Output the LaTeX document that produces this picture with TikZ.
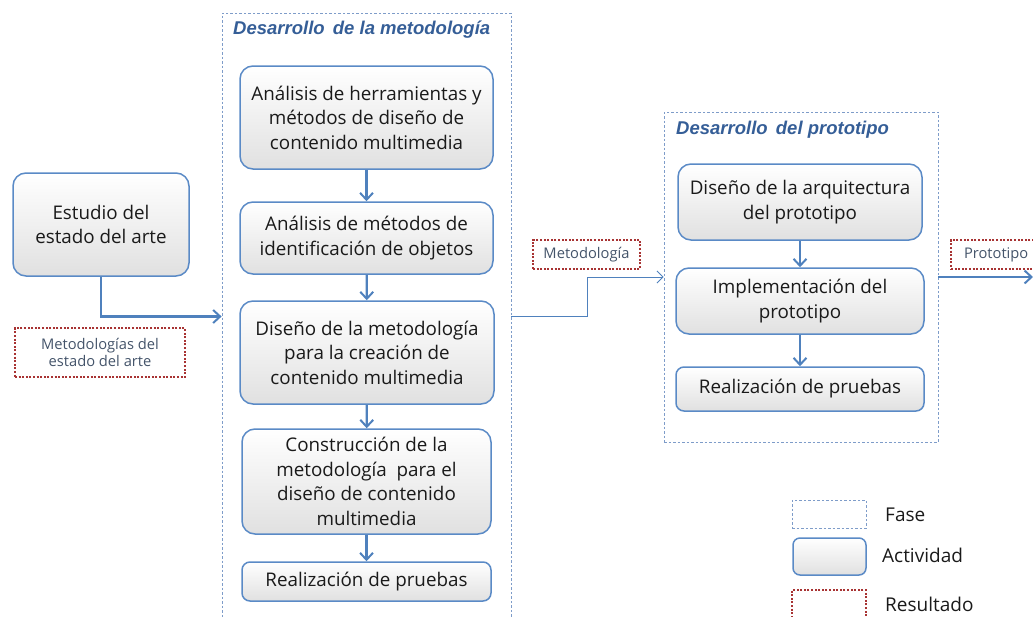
\documentclass[tikz,border=0pt]{standalone}
\usepackage{fontspec}
\setmainfont{Open Sans}
\newfontfamily\titlefont{Liberation Sans}
\usetikzlibrary{arrows.meta,positioning}
\definecolor{bxborder}{HTML}{5A8AC6}
\definecolor{arrowc}{HTML}{4F81BD}
\definecolor{phasec}{HTML}{7E9CC9}
\definecolor{titlec}{HTML}{355E97}
\definecolor{resc}{HTML}{A83333}
\definecolor{restext}{HTML}{44546A}
\definecolor{txt}{HTML}{1A1A1A}
\tikzset{
  act/.style={draw=bxborder, line width=1.5pt, rounded corners=13pt, top color=white, bottom color=black!12,
    align=center, text=txt, font=\fontsize{18.8}{24.5}\selectfont, inner sep=0pt},
  phase/.style={draw=phasec, line width=0.8pt, dash pattern=on 2.5pt off 2pt, inner sep=0pt},
  result/.style={draw=resc, line width=2.2pt, dash pattern=on 2pt off 1.6pt, align=center, text=restext,
    font=\fontsize{14.7}{17}\selectfont, inner sep=0pt},
  ttl/.style={font=\titlefont\bfseries\itshape\fontsize{18.5}{20}\selectfont, text=titlec, anchor=west, inner sep=0pt},
  flow/.style={draw=arrowc, line width=2.2pt, -{Straight Barb[length=7pt,width=13pt,line width=2pt]}},
  thinflow/.style={draw=arrowc, line width=0.9pt, -{Straight Barb[length=6pt,width=12pt,line width=0.9pt]}},
  legtext/.style={anchor=west, text=txt, font=\fontsize{19}{20}\selectfont, inner sep=0pt}
}
\begin{document}
\begin{tikzpicture}[x=1pt,y=-1pt]
\useasboundingbox (0,0) rectangle (1033,616);
% phases
\node[phase, minimum width=289pt, minimum height=607pt] (ph1) at (366.5,316.5) {};
\node[phase, minimum width=274pt, minimum height=330pt] (ph2) at (801,277) {};
\node[ttl] (t1) at (233,30) {Desarrollo\, de la metodología};
\node[ttl] (t2) at (676,130) {Desarrollo\, del prototipo};
% activities
\node[act, minimum width=176pt, minimum height=103pt] (e) at (101,224.5) {Estudio del\\estado del arte};
\node[act, minimum width=253pt, minimum height=103pt] (a1) at (366.5,117.5) {Análisis de herramientas y\\métodos de diseño de\\contenido multimedia};
\node[act, minimum width=253pt, minimum height=72pt] (a2) at (366.5,238) {Análisis de métodos de\\identificación de objetos};
\node[act, minimum width=254pt, minimum height=103pt] (a3) at (367,352.5) {Diseño de la metodología\\para la creación de\\contenido multimedia};
\node[act, minimum width=249pt, minimum height=105pt] (a4) at (366.5,481.5) {Construcción de la\\metodología\ \ para el\\diseño de contenido\\multimedia};
\node[act, minimum width=249pt, minimum height=39pt, rounded corners=8pt] (a5) at (366.5,581.5) {Realización de pruebas};
\node[act, minimum width=244pt, minimum height=76pt] (p1) at (800,202) {Diseño de la arquitectura\\del prototipo};
\node[act, minimum width=248pt, minimum height=66pt] (p2) at (800,301) {Implementación del\\prototipo};
\node[act, minimum width=248pt, minimum height=44pt, rounded corners=8pt] (p3) at (800,389) {Realización de pruebas};
% results
\node[result, minimum width=170pt, minimum height=49pt] (r1) at (100,352.5) {Metodologías del\\estado del arte};
\node[result, minimum width=107pt, minimum height=29pt] (r2) at (586.5,254.5) {Metodología};
\node[result, minimum width=90pt, minimum height=29pt, text width=64pt] (r3) at (996,254.5) {Prototipo};
% connectors
\draw[flow] (a1) -- (a2);
\draw[flow] (a2) -- (a3);
\draw[flow] (a3) -- (a4);
\draw[flow] (a4) -- (a5);
\draw[flow] (p1) -- (p2);
\draw[flow] (p2) -- (p3);
\draw[flow] (e.south) |- (ph1.west);
\draw[thinflow] (ph1.east) -- ++(76,0) |- (ph2.west);
\coordinate (out) at (1033,277);
\draw[flow] (ph2.east) -- (out);
% legend
\node[phase, minimum width=74pt, minimum height=28pt] (lf) at (829,514) {};
\node[act, minimum width=73pt, minimum height=37pt, rounded corners=7pt] (la) at (829.5,556.5) {};
\node[result, minimum width=74pt, minimum height=35pt] (lr) at (829,607.5) {};
\node[legtext] (lft) at (885,515) {Fase};
\node[legtext] (lat) at (882,555) {Actividad};
\node[legtext] (lrt) at (885,604) {Resultado};
\end{tikzpicture}
\end{document}
